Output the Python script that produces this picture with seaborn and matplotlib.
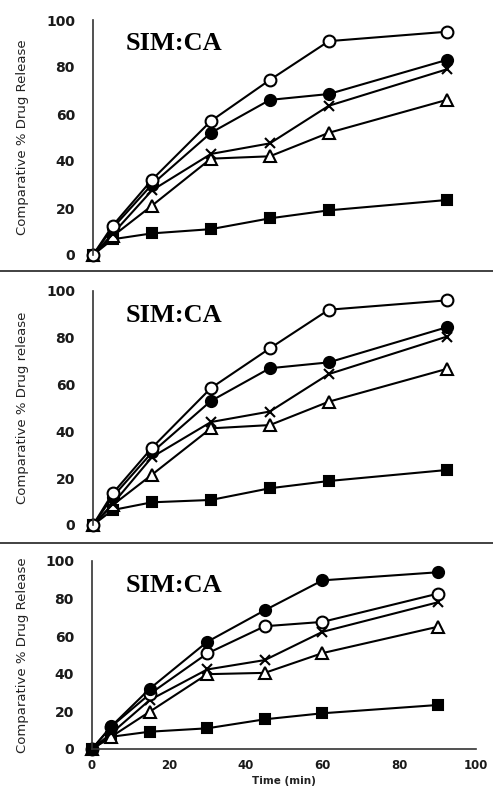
import numpy as np
import pandas as pd
import seaborn as sns
import matplotlib.pyplot as plt
from matplotlib.lines import Line2D

sns.set_theme(style="white")

time_min = [0, 5, 15, 30, 45, 60, 90]

# panel 1
p1_open_circle = [0, 12.5, 32, 57, 74.5, 91, 95]
p1_filled_circle = [0, 11.5, 30, 52, 66, 68.5, 83]
p1_cross = [0, 9, 27.5, 43, 47.5, 63.5, 79]
p1_triangle = [0, 8, 21, 41, 42, 52, 66]
p1_square = [0, 6.7, 9.2, 11, 15.6, 19, 23.4]

# panel 2
p2_open_circle = [0, 13.5, 33, 58.5, 75.5, 92, 96]
p2_filled_circle = [0, 12, 31, 53, 67, 69.5, 84.5]
p2_cross = [0, 9, 29, 44, 48.5, 64.5, 80.5]
p2_triangle = [0, 8.5, 21.5, 41.3, 42.7, 52.7, 66.7]
p2_square = [0, 6.4, 9.7, 10.7, 15.7, 18.8, 23.5]

# panel 3
p3_open_circle = [0, 11.9, 29.2, 50.8, 65.3, 67.6, 82.6]
p3_filled_circle = [0, 12, 32, 57, 73.8, 89.7, 94]
p3_cross = [0, 8.3, 26, 42.3, 47.3, 62.3, 78]
p3_triangle = [0, 6.5, 19.8, 39.8, 40.5, 51, 65]
p3_square = [0, 6.5, 9.2, 11, 15.8, 19, 23.4]

y_labels = ["Comparative % Drug Release", "Comparative % Drug release",
            "Comparative % Drug Release"]

panels = [
    {"square": p1_square, "triangle": p1_triangle, "cross": p1_cross,
     "filled": p1_filled_circle, "open": p1_open_circle},
    {"square": p2_square, "triangle": p2_triangle, "cross": p2_cross,
     "filled": p2_filled_circle, "open": p2_open_circle},
    {"square": p3_square, "triangle": p3_triangle, "cross": p3_cross,
     "open": p3_open_circle, "filled": p3_filled_circle},
]
# marker, filled, size
styles = {"square": ("s", True, 7.5), "triangle": ("^", False, 8),
          "cross": ("x", True, 7), "filled": ("o", True, 8),
          "open": ("o", False, 8.5)}

W, H = 493, 792
fig = plt.figure(figsize=(W / 100, H / 100), dpi=100)

# axes boxes in pixels: left, y of value 0, width (for 0..100), height (for 0..100)
boxes = [(93, 255, 393, 235), (93, 525, 393, 234), (92, 749, 384, 188)]

for i, (series, box) in enumerate(zip(panels, boxes)):
    left, y0, w, h = box
    ax = fig.add_axes([left / W, (H - y0) / H, w / W, h / H])
    for name, vals in series.items():
        mk, filled, ms = styles[name]
        df = pd.DataFrame({"t": time_min, "v": vals})
        sns.lineplot(data=df, x="t", y="v", ax=ax, color="black", lw=1.5,
                     marker=mk, markersize=ms,
                     markerfacecolor="black" if filled else "white",
                     markeredgecolor="black", markeredgewidth=1.5,
                     clip_on=False)
    ax.set_xlim(0, 100)
    ax.set_ylim(0, 100)
    ax.set_yticks([0, 20, 40, 60, 80, 100])
    for s in ["top", "right"]:
        ax.spines[s].set_visible(False)
    ax.spines["left"].set_color("#333333")
    ax.spines["left"].set_linewidth(1.2)
    ax.tick_params(axis="y", length=0, pad=13, labelsize=10)
    for lab in ax.get_yticklabels():
        lab.set_fontweight("bold")
        lab.set_color("#1a1a1a")
    ax.set_ylabel(y_labels[i], fontsize=9.5,
                  family=["Liberation Sans Narrow", "DejaVu Sans"],
                  color="#222222")
    ax.yaxis.set_label_coords(-(left - 29) / w, 0.5)
    if i < 2:
        ax.spines["bottom"].set_visible(False)
        ax.set_xticks([])
        ax.set_xlabel("")
    else:
        ax.spines["bottom"].set_color("#333333")
        ax.spines["bottom"].set_linewidth(1.2)
        ax.set_xticks([0, 20, 40, 60, 80, 100])
        ax.tick_params(axis="x", length=0, pad=7, labelsize=8.5)
        for lab in ax.get_xticklabels():
            lab.set_fontweight("bold")
            lab.set_color("#1a1a1a")
        ax.set_xlabel("Time (min)", fontsize=7.5, fontweight="bold",
                      color="#222222", labelpad=3)
    ty = (y0 - [43, 315, 585][i]) / h
    ax.text((126 - left) / w, ty, "SIM:CA", transform=ax.transAxes,
            ha="left", va="center", fontsize=19, fontweight="bold",
            family="Liberation Serif", color="black")

# separator lines between panels
for yp in [271, 543]:
    fig.add_artist(Line2D([0, 1], [1 - yp / H, 1 - yp / H],
                          transform=fig.transFigure, color="#333333", lw=1.3))

fig.savefig("out.png", dpi=100)
